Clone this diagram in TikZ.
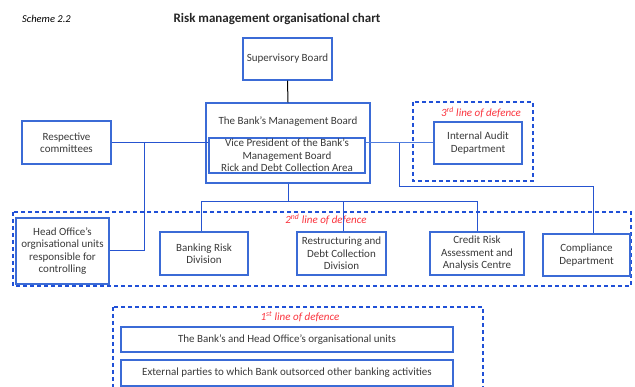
\documentclass[tikz,border=0pt]{standalone}
\usepackage{fontspec}
\setmainfont{Carlito}
\definecolor{boxblue}{RGB}{59,107,214}
\definecolor{lineblue}{RGB}{38,84,208}
\definecolor{lightblue}{RGB}{80,125,222}
\definecolor{dashblue}{RGB}{32,80,215}
\definecolor{txt}{RGB}{58,58,58}
\definecolor{defred}{RGB}{250,50,60}
\tikzset{
  orgbox/.style={draw=boxblue, line width=1.4pt, fill=white, align=center, text=txt,
    font=\fontsize{11}{12.5}\selectfont, inner sep=1pt},
  conn/.style={draw=lineblue, line width=1pt},
  lconn/.style={draw=lightblue, line width=1pt},
  defbox/.style={draw=dashblue, line width=1.1pt, dash pattern=on 4pt off 3pt},
  deflabel/.style={text=defred, font=\itshape\fontsize{11}{12}\selectfont, inner sep=0pt},
}
\begin{document}
\begin{tikzpicture}[x=1pt,y=-1pt]
\useasboundingbox (0,0) rectangle (635,387);
% titles
\node[font=\itshape\fontsize{10.5}{12}\selectfont, text=black, anchor=west, inner sep=0pt] (scheme) at (22,19) {Scheme 2.2};
\node[font=\bfseries\fontsize{13}{15}\selectfont, text=black!85] (title) at (277,19) {Risk management organisational chart};
% defence areas
\draw[defbox] (413,102) rectangle (533,181);
\draw[defbox] (13,212) rectangle (631,286);
\draw[defbox] (113,307) rectangle (483,398);
\node[deflabel] (l3) at (481,112) {3\textsuperscript{rd} line of defence};
\node[deflabel] (l2) at (326,219) {2\textsuperscript{nd} line of defence};
\node[deflabel] (l1) at (300,317) {1\textsuperscript{st} line of defence};
% boxes
\node[orgbox, minimum width=89pt, minimum height=42pt] (sup) at (287.5,59) {Supervisory Board};
\node[orgbox, minimum width=164pt, minimum height=80pt] (mgmt) at (288,143) {};
\node[text=txt, font=\fontsize{11}{12.5}\selectfont] (mgmtt) at (288,122) {The Bank's Management Board};
\node[orgbox, draw=boxblue, line width=1.1pt, minimum width=156pt, minimum height=35pt, inner sep=0pt, font=\fontsize{11}{12.5}\selectfont] (vp) at (287,155.5) {Vice President of the Bank's\\Management Board\\Rick and Debt Collection Area};
\node[orgbox, minimum width=89pt, minimum height=43pt] (com) at (66.5,142.5) {Respective\\committees};
\node[orgbox, minimum width=88pt, minimum height=42pt] (audit) at (478,143) {Internal Audit\\Department};
\node[orgbox, minimum width=93pt, minimum height=66pt] (head) at (62.5,251) {Head Office's\\orgnisational units\\responsible for\\controlling};
\node[orgbox, minimum width=88pt, minimum height=43pt] (bank) at (204,253.5) {Banking Risk\\Division};
\node[orgbox, minimum width=89pt, minimum height=43pt] (restr) at (341.5,253.5) {Restructuring and\\Debt Collection\\Division};
\node[orgbox, minimum width=94pt, minimum height=43pt] (credit) at (477,253.5) {Credit Risk\\Assessment and\\Analysis Centre};
\node[orgbox, minimum width=87pt, minimum height=42pt] (compl) at (586.5,255) {Compliance\\Department};
\node[orgbox, minimum width=332pt, minimum height=25pt] (units) at (287,339.5) {The Bank's and Head Office's organisational units};
\node[orgbox, minimum width=332pt, minimum height=26pt] (ext) at (287,373) {External parties to which Bank outsorced other banking activities};
% connectors
\draw[line width=1pt, black] (sup.south) -- (mgmt.north);
\coordinate (jl) at (144,143);
\draw[conn] (com.east) -- (com.east -| vp.west);
\draw[conn] (jl) |- (head.east);
\draw[lconn] (audit.west -| vp.east) -- (audit.west);
\coordinate (jr) at (399,143);
\coordinate (jr2) at (593,187);
\draw[conn] (jr) |- (jr2) -- (jr2 |- compl.north);
\coordinate (jb) at (288,202);
\coordinate (jb1) at (201,202);
\coordinate (jb2) at (343,202);
\coordinate (jb3) at (477,202);
\draw[conn] (mgmt.south) -- (jb);
\draw[conn] (jb1 |- bank.north) -- (jb1) -- (jb3) -- (credit.north);
\draw[conn] (jb2) -- (jb2 |- restr.north);
\end{tikzpicture}
\end{document}
